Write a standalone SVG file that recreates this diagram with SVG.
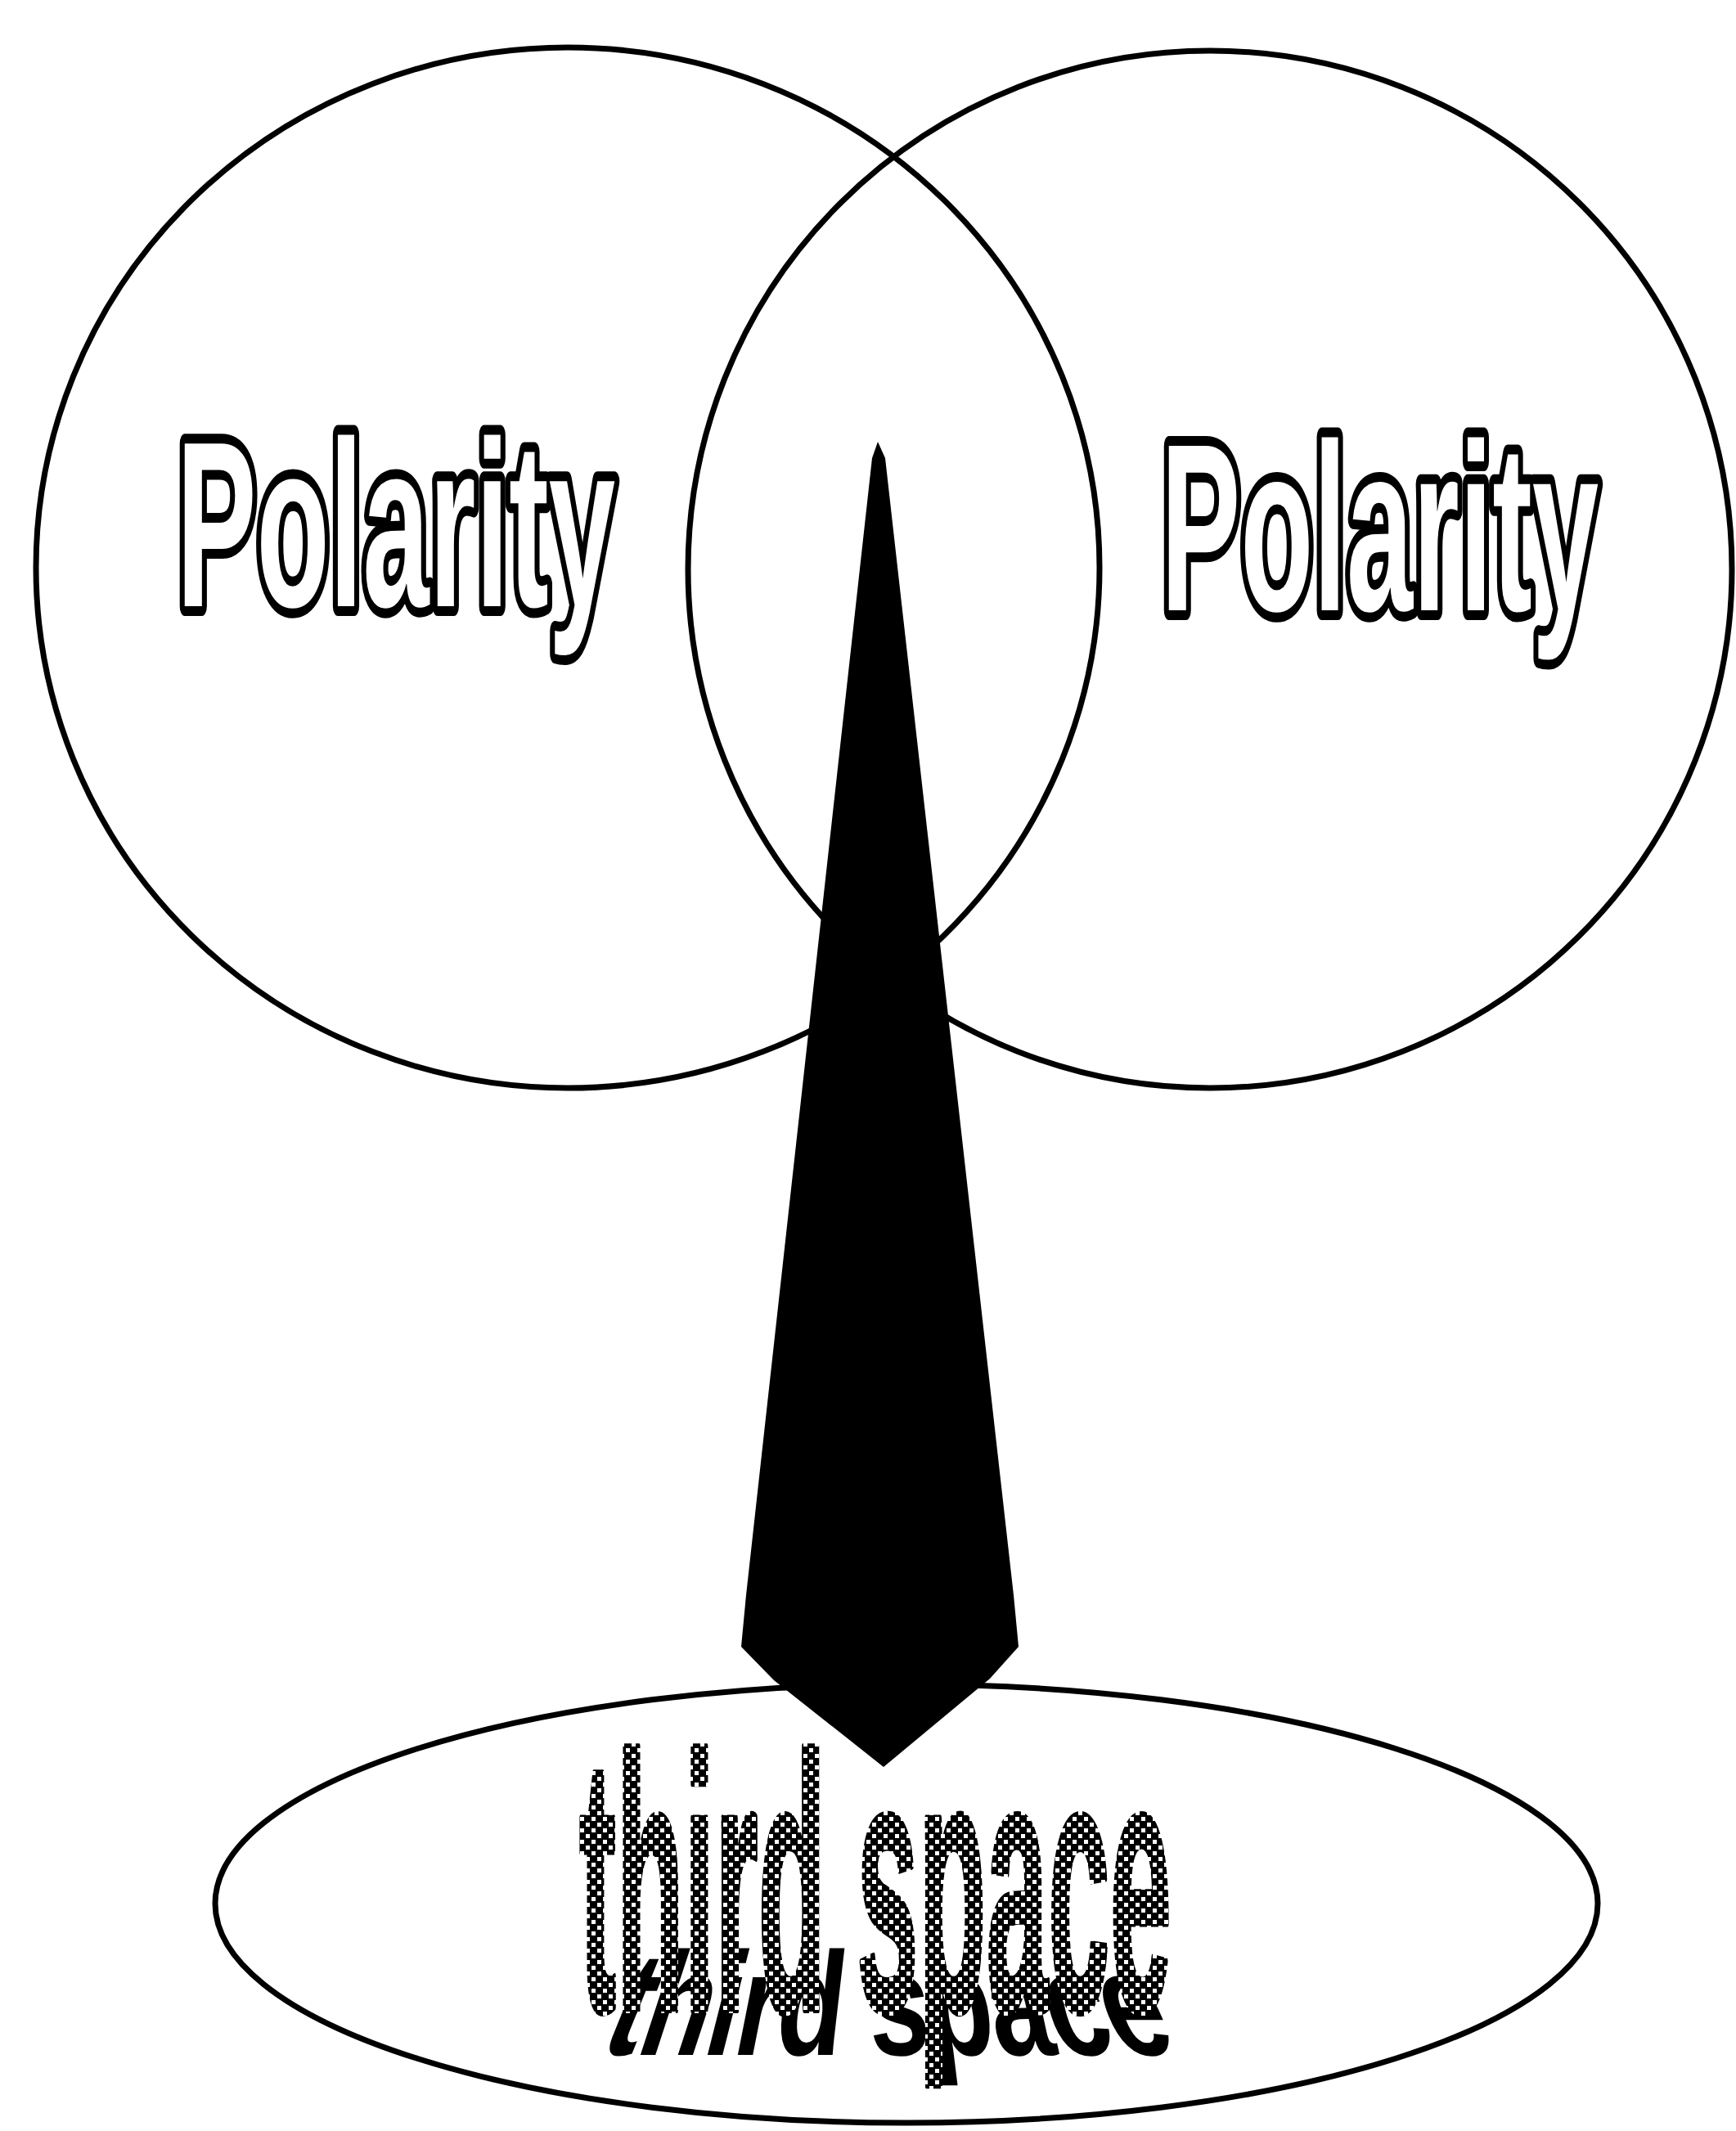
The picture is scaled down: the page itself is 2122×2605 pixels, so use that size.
<svg xmlns="http://www.w3.org/2000/svg" width="2122" height="2605" viewBox="0 0 2122 2605">
  <style>
    .ring { fill: none; stroke: #000; stroke-width: 7; }
    .polar { font-family: "Liberation Sans", Arial, sans-serif; font-weight: bold; fill: #fff; stroke: #000; stroke-width: 24; stroke-linejoin: round; paint-order: stroke; }
    .third { font-family: "Liberation Sans", Arial, sans-serif; font-weight: bold; }
    .shadow { font-family: "Liberation Sans", Arial, sans-serif; font-weight: bold; font-size: 180px; fill: #000; }
  </style>
  <defs>
    <pattern id="halftone" width="14" height="14" patternUnits="userSpaceOnUse">
      <rect width="14" height="14" fill="#000"/>
      <rect x="2" y="2" width="5" height="5" fill="#fff"/>
      <rect x="9" y="9" width="5" height="5" fill="#fff"/>
    </pattern>
  </defs>
  <rect width="2122" height="2605" fill="#fff"/>

  <g id="polarity-left">
    <ellipse class="ring" cx="694" cy="694" rx="650" ry="636"/>
    <text class="polar" x="216" y="741" font-size="289" textLength="536" lengthAdjust="spacingAndGlyphs">Polarity</text>
  </g>

  <g id="polarity-right">
    <ellipse class="ring" cx="1479" cy="696" rx="638" ry="634"/>
    <text class="polar" x="1419" y="746" font-size="292" textLength="535" lengthAdjust="spacingAndGlyphs">Polarity</text>
  </g>

  <g id="third-space">
    <ellipse class="ring" cx="1108" cy="2327" rx="845" ry="268"/>
    <g id="third-space-shadow">
      <text class="shadow" transform="translate(729,2512) skewX(-22) scale(0.744,1)">t</text>
      <text class="shadow" transform="translate(773.6,2512) skewX(-18.1) scale(0.744,1)">h</text>
      <text class="shadow" transform="translate(855.4,2512) skewX(-14.2) scale(0.744,1)">i</text>
      <text class="shadow" transform="translate(892.6,2512) skewX(-11.2) scale(0.744,1)">r</text>
      <text class="shadow" transform="translate(944.7,2512) skewX(-6.6) scale(0.744,1)">d</text>
      <text class="shadow" transform="translate(1063.7,2512) skewX(1.5) scale(0.744,1)">s</text>
      <text class="shadow" transform="translate(1138.2,2512) skewX(7) scale(0.744,1)">p</text>
      <text class="shadow" transform="translate(1220,2512) skewX(12.3) scale(0.744,1)">a</text>
      <text class="shadow" transform="translate(1294.5,2512) skewX(17.2) scale(0.744,1)">c</text>
      <text class="shadow" transform="translate(1369,2512) skewX(21.9) scale(0.744,1)">e</text>
    </g>
    <text class="third" x="708" y="2457" font-size="444" textLength="724" lengthAdjust="spacingAndGlyphs" fill="url(#halftone)" stroke="url(#halftone)" stroke-width="8" stroke-linejoin="round">third space</text>
  </g>

  <g id="connectors">
    <polygon fill="#000" points="1073,540 1082,560 1239,1950 1245,2013 1210,2052 1080,2160 946,2054 906,2013 912,1950 1066,560"/>
  </g>
</svg>
